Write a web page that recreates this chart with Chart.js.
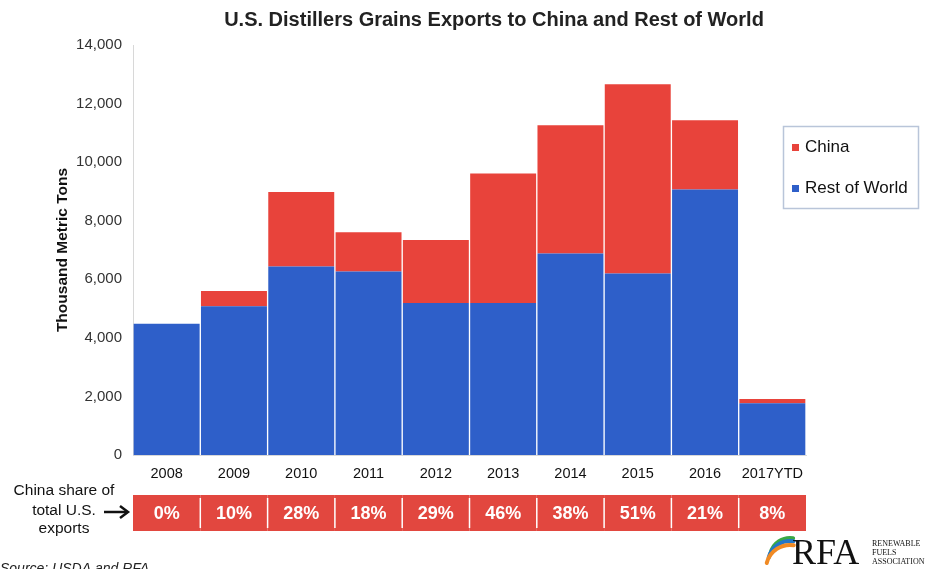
<!DOCTYPE html>
<html>
<head>
<meta charset="utf-8">
<title>U.S. Distillers Grains Exports</title>
<script src="https://cdn.jsdelivr.net/npm/chart.js@4.4.0/dist/chart.umd.min.js"></script>
<style>
  html, body { margin: 0; padding: 0; background: #fff; }
  #wrap { width: 935px; height: 569px; position: relative; }
</style>
</head>
<body>
<div id="wrap"><canvas id="dgChart" width="935" height="569"></canvas></div>
<script>
// exports in thousand metric tons
var years = ['2008', '2009', '2010', '2011', '2012', '2013', '2014', '2015', '2016', '2017YTD'];
var restOfWorld = [4480, 5080, 6440, 6270, 5190, 5190, 6880, 6200, 9070, 1770];
var china = [0, 520, 2540, 1340, 2150, 4420, 4380, 6460, 2360, 140];
// china share of total U.S. exports, percent
var chinaShare = [0, 10, 28, 18, 29, 46, 38, 51, 21, 8];
var yTicks = [0, 2000, 4000, 6000, 8000, 10000, 12000, 14000];

var blue = '#2e5fc9';
var red = '#e8433b';
var font = '"Liberation Sans", Arial, sans-serif';

// title, legend, share row, source and logo
var extras = {
  id: 'extras',
  afterDraw: function(chart) {
    var ctx = chart.ctx;
    var xs = chart.scales.x;
    ctx.save();

    // title
    ctx.fillStyle = '#222';
    ctx.font = 'bold 20px ' + font;
    ctx.textAlign = 'center';
    ctx.textBaseline = 'middle';
    ctx.fillText('U.S. Distillers Grains Exports to China and Rest of World', 494, 20);

    // legend
    ctx.strokeStyle = '#b9c5d9';
    ctx.lineWidth = 1.5;
    ctx.strokeRect(783.5, 126.5, 135, 82);
    var items = [chart.data.datasets[1], chart.data.datasets[0]];
    ctx.font = '17px ' + font;
    ctx.textAlign = 'left';
    items.forEach(function(ds, i) {
      var y = 147 + i * 41;
      ctx.fillStyle = ds.backgroundColor;
      ctx.fillRect(792, y - 3, 7, 7);
      ctx.fillStyle = '#111';
      ctx.fillText(ds.label, 805, y);
    });

    // share boxes, one per category
    var top = 495, bottom = 531;
    var half = (xs.getPixelForValue(1) - xs.getPixelForValue(0)) / 2;
    chinaShare.forEach(function(v, i) {
      var cx = xs.getPixelForValue(i);
      ctx.fillStyle = '#e2473f';
      ctx.fillRect(cx - half, top, half * 2, bottom - top);
      ctx.fillStyle = '#fff';
      ctx.font = 'bold 18px ' + font;
      ctx.textAlign = 'center';
      ctx.fillText(v + '%', cx, 514);
    });
    ctx.strokeStyle = '#fff';
    ctx.lineWidth = 1.5;
    for (var i = 1; i < chinaShare.length; i++) {
      var sx = xs.getPixelForValue(i) - half;
      ctx.beginPath();
      ctx.moveTo(sx, top + 3);
      ctx.lineTo(sx, bottom - 3);
      ctx.stroke();
    }

    // row label with arrow
    ctx.fillStyle = '#111';
    ctx.font = '15.5px ' + font;
    ctx.fillText('China share of', 64, 491);
    ctx.fillText('total U.S.', 64, 511);
    ctx.fillText('exports', 64, 529);
    ctx.strokeStyle = '#111';
    ctx.lineWidth = 2.5;
    ctx.beginPath();
    ctx.moveTo(104, 512);
    ctx.lineTo(126, 512);
    ctx.stroke();
    ctx.beginPath();
    ctx.moveTo(120, 506);
    ctx.lineTo(128, 512);
    ctx.lineTo(120, 518);
    ctx.stroke();

    // source line
    ctx.font = 'italic 14px ' + font;
    ctx.textAlign = 'left';
    ctx.textBaseline = 'alphabetic';
    ctx.fillStyle = '#222';
    ctx.fillText('Source: USDA and RFA', 0, 573);

    // RFA logo
    ctx.lineCap = 'round';
    var arcs = [['#3aa845', 20, 536], ['#2277c8', 22, 541], ['#f08a24', 24, 547]];
    arcs.forEach(function(a) {
      ctx.strokeStyle = a[0];
      ctx.lineWidth = 4;
      ctx.beginPath();
      ctx.arc(790, a[2] + 22, a[1], Math.PI * 1.08, Math.PI * 1.55);
      ctx.stroke();
    });
    ctx.fillStyle = '#111';
    ctx.font = '36px "Liberation Serif", "DejaVu Serif", serif';
    ctx.fillText('RFA', 792, 564);
    ctx.font = '8px "Liberation Serif", serif';
    ctx.fillText('RENEWABLE', 872, 546);
    ctx.fillText('FUELS', 872, 555);
    ctx.fillText('ASSOCIATION', 872, 564);

    ctx.restore();
  }
};

var ctx = document.getElementById('dgChart').getContext('2d');
var dgChart = new Chart(ctx, {
  type: 'bar',
  data: {
    labels: years,
    datasets: [
      {
        label: 'Rest of World',
        data: restOfWorld,
        backgroundColor: blue,
        barPercentage: 0.98,
        categoryPercentage: 1
      },
      {
        label: 'China',
        data: china,
        backgroundColor: red,
        barPercentage: 0.98,
        categoryPercentage: 1
      }
    ]
  },
  options: {
    responsive: false,
    animation: false,
    layout: { padding: { left: 50, top: 45, right: 129, bottom: 0 } },
    plugins: {
      legend: { display: false },
      title: { display: false },
      tooltip: { enabled: false }
    },
    scales: {
      x: {
        stacked: true,
        grid: { display: false, drawTicks: false },
        border: { display: true, color: '#d8d8d8' },
        ticks: { color: '#111', font: { family: font, size: 14.5 }, padding: 10 },
        afterFit: function(scale) { scale.height = 114; }
      },
      y: {
        stacked: true,
        min: 0,
        max: 14000,
        grid: { display: false, drawTicks: false },
        border: { display: true, color: '#d8d8d8' },
        afterBuildTicks: function(scale) {
          scale.ticks = yTicks.map(function(v) { return { value: v }; });
        },
        ticks: {
          color: '#333',
          font: { family: font, size: 15 },
          padding: 11,
          callback: function(v) { return v.toLocaleString('en-US'); }
        },
        title: {
          display: true,
          text: 'Thousand Metric Tons',
          color: '#111',
          font: { family: font, size: 15.5, weight: 'bold' },
          padding: { top: 3, bottom: 3 }
        },
        afterFit: function(scale) { scale.width = 83; }
      }
    }
  },
  plugins: [extras]
});
</script>
</body>
</html>
